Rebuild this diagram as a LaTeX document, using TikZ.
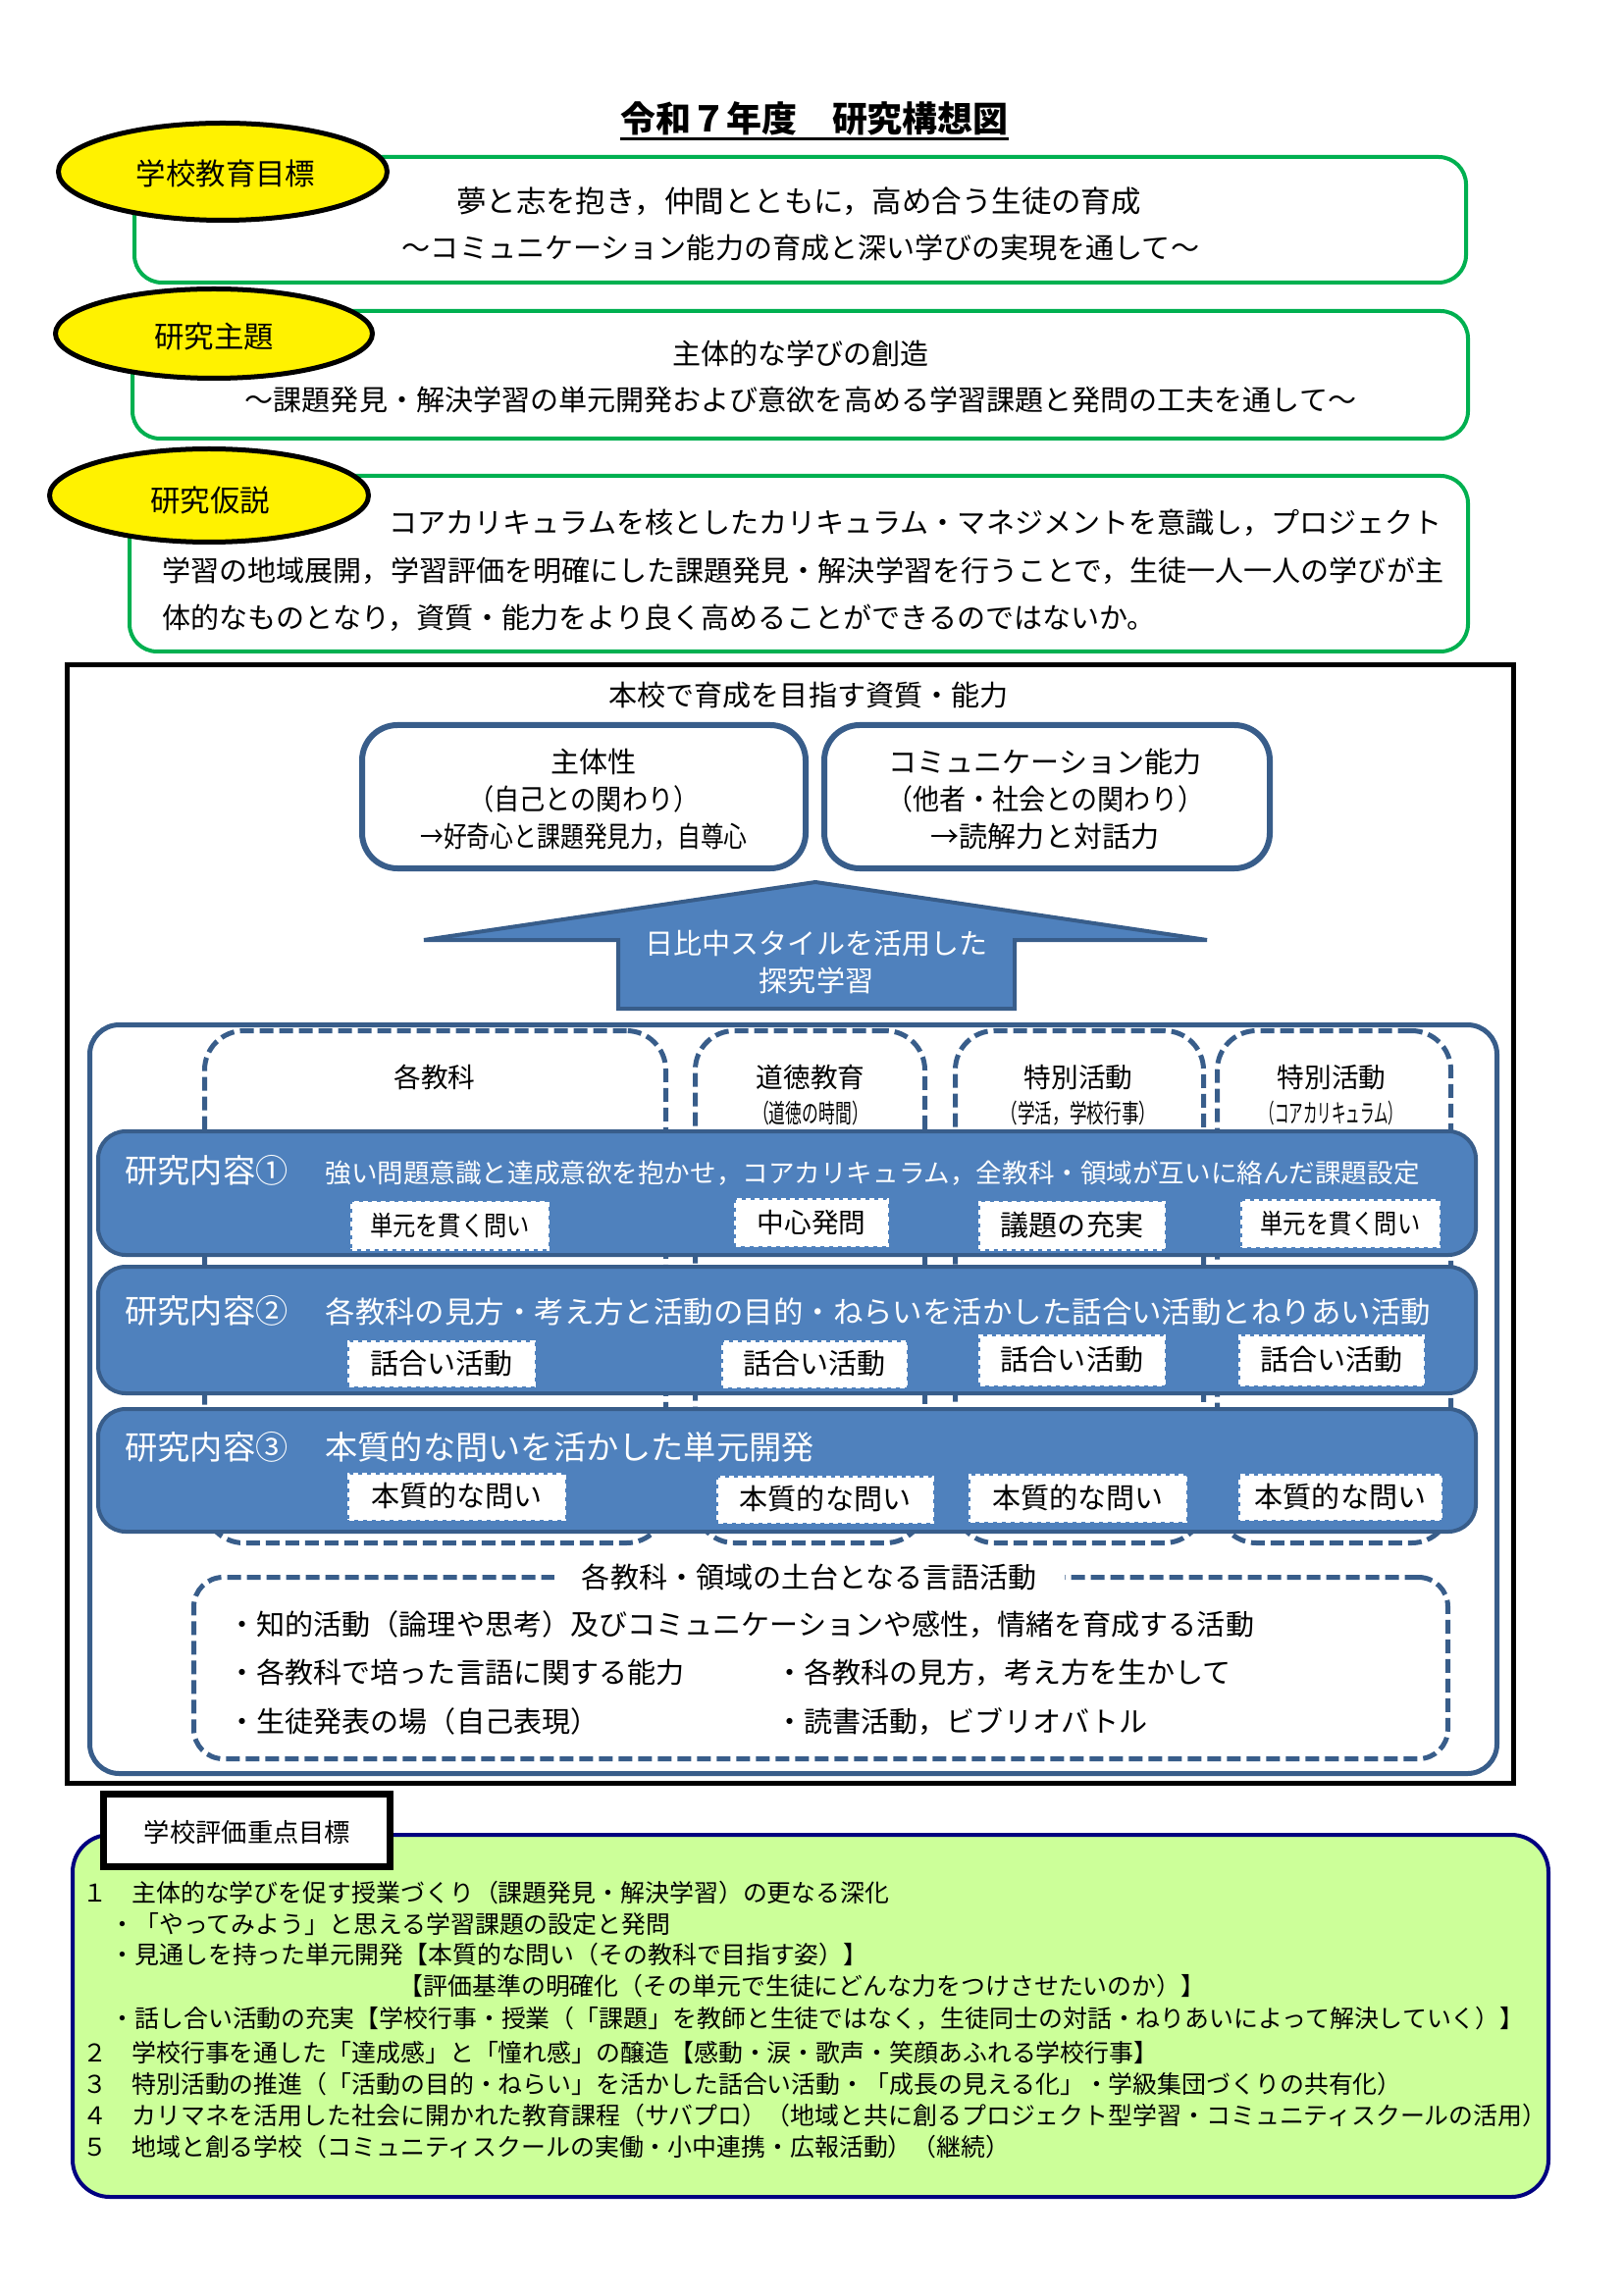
\documentclass[tikz,border=0pt]{standalone}
\usepackage{graphicx}
\usepackage{fontspec}
\setmainfont{Noto Sans CJK JP}
\usetikzlibrary{shapes.geometric}
\newdimen\PX \PX=0.127mm
\definecolor{gr}{HTML}{00B050}
\definecolor{bfill}{HTML}{4F81BD}
\definecolor{bdark}{HTML}{385D8A}
\definecolor{lgreen}{HTML}{CCFF99}
\definecolor{navyb}{HTML}{000080}
\newcommand{\fsz}[1]{\fontsize{#1}{#1}\selectfont}
\newcommand{\hsq}[2]{\scalebox{#1}[1]{#2}}
\begin{document}
\begin{tikzpicture}[x=0.127mm, y=-0.127mm,
  tx/.style={inner sep=0pt, text height=0.8em, text depth=0.05em},
  wtx/.style={tx, text=white},
  gbox/.style={draw=gr, line width=4\PX, rounded corners=28\PX, fill=white, inner sep=0pt},
  ell/.style={ellipse, draw=black, line width=5\PX, fill=yellow, inner sep=0pt},
  bbox/.style={draw=bdark, line width=6\PX, rounded corners=36\PX, fill=white, inner sep=0pt},
  dcol/.style={draw=bdark, line width=5\PX, dash pattern=on 14\PX off 6\PX, rounded corners=40\PX, inner sep=0pt},
  band/.style={draw=bdark, fill=bfill, line width=4\PX, rounded corners=28\PX, inner sep=0pt},
  lab/.style={fill=white, draw=white, line width=3\PX, dash pattern=on 5\PX off 4\PX, inner sep=0pt, text height=0.8em, text depth=0.05em},
]
\useasboundingbox (0,0) rectangle (1654,2339);
\fill[white] (0,0) rectangle (1654,2339);

% title
\node[tx, font=\fsz{13}\bfseries] (title) at (830,124) {令和７年度　研究構想図};
\draw[line width=2.5\PX] ([yshift=-5\PX]title.south west) -- ([yshift=-5\PX]title.south east);

% green boxes
\node[gbox, minimum width=1357\PX, minimum height=128\PX] (g1) at (815.5,224) {};
\node[gbox, minimum width=1361\PX, minimum height=130\PX] (g2) at (815.5,382) {};
\node[gbox, minimum width=1364\PX, minimum height=179\PX] (g3) at (814,574.5) {};

% ellipses
\node[ell, minimum width=335\PX, minimum height=99\PX] (e1) at (227,175) {};
\node[ell, minimum width=323\PX, minimum height=91\PX] (e2) at (218,340) {};
\node[ell, minimum width=325\PX, minimum height=95\PX] (e3) at (213,505) {};
\node[tx, font=\fsz{11}] (e1t) at (230,178) {学校教育目標};
\node[tx, font=\fsz{11}] (e2t) at (218,344) {研究主題};
\node[tx, font=\fsz{11}] (e3t) at (214,511) {研究仮説};

% green box texts
\node[tx, font=\fsz{11}] (g1a) at (814,206) {夢と志を抱き，仲間とともに，高め合う生徒の育成};
\node[tx, font=\fsz{10.5}] (g1b) at (816,253) {～コミュニケーション能力の育成と深い学びの実現を通して～};
\node[tx, font=\fsz{10.5}] (g2a) at (816,361) {主体的な学びの創造};
\node[tx, font=\fsz{10.5}] (g2b) at (816,408) {～課題発見・解決学習の単元開発および意欲を高める学習課題と発問の工夫を通して～};
\node[tx, font=\fsz{10.5}, anchor=west] (g3a) at (396,533) {コアカリキュラムを核としたカリキュラム・マネジメントを意識し，プロジェクト};
\node[tx, font=\fsz{10.5}, anchor=west] (g3b) at (165,582) {学習の地域展開，学習評価を明確にした課題発見・解決学習を行うことで，生徒一人一人の学びが主};
\node[tx, font=\fsz{10.5}, anchor=west] (g3c) at (165,630) {体的なものとなり，資質・能力をより良く高めることができるのではないか。};

% main black frame
\node[draw=black, line width=5\PX, minimum width=1474\PX, minimum height=1140\PX, inner sep=0pt] (main) at (805.5,1247.5) {};
\node[tx, font=\fsz{10.5}] (cap) at (824,709) {本校で育成を目指す資質・能力};

% two ability boxes
\node[bbox, minimum width=452\PX, minimum height=146\PX] (boxA) at (595,812) {};
\node[bbox, minimum width=454\PX, minimum height=146\PX] (boxB) at (1067,812) {};
\node[tx, font=\fsz{10.5}] (a1) at (605,777) {主体性};
\node[tx, font=\fsz{10.5}] (a2) at (595,815) {\hsq{0.9}{（自己との関わり）}};
\node[tx, font=\fsz{10.5}] (a3) at (595,853) {\hsq{0.82}{→好奇心と課題発見力，自尊心}};
\node[tx, font=\fsz{10.5}] (b1t) at (1065,777) {コミュニケーション能力};
\node[tx, font=\fsz{10.5}] (b2t) at (1065,815) {\hsq{0.93}{（他者・社会との関わり）}};
\node[tx, font=\fsz{10.5}] (b3t) at (1065,853) {→読解力と対話力};

% big up arrow
\filldraw[fill=bfill, draw=bdark, line width=4\PX, line join=miter]
  (831,899) -- (1230,958) -- (1034,958) -- (1034,1028) -- (630,1028) -- (630,958) -- (432,958) -- cycle;
\node[wtx, font=\fsz{10.5}] (ar1) at (832,962) {日比中スタイルを活用した};
\node[wtx, font=\fsz{10.5}] (ar2) at (832,1000) {探究学習};

% blue panel
\node[draw=bdark, line width=5\PX, rounded corners=30\PX, fill=white, minimum width=1434\PX, minimum height=763\PX, inner sep=0pt] (panel) at (808.5,1426) {};

% dashed columns
\node[dcol, minimum width=470\PX, minimum height=522\PX] (c1) at (443.5,1311.5) {};
\node[dcol, minimum width=234\PX, minimum height=522\PX] (c2) at (825.5,1311.5) {};
\node[dcol, minimum width=253\PX, minimum height=522\PX] (c3) at (1100,1311.5) {};
\node[dcol, minimum width=238\PX, minimum height=522\PX] (c4) at (1359.5,1311.5) {};
\node[tx, font=\fsz{10}] (c1t) at (443,1098) {各教科};
\node[tx, font=\fsz{10}] (c2t) at (826,1098) {道徳教育};
\node[tx, font=\fsz{9.5}] (c2s) at (826,1134) {\hsq{0.64}{（道徳の時間）}};
\node[tx, font=\fsz{9.5}] (c3t0) at (1099,1134) {\hsq{0.67}{（学活，学校行事）}};
\node[tx, font=\fsz{10}] (c3t) at (1099,1098) {特別活動};
\node[tx, font=\fsz{10}] (c4t) at (1357,1098) {特別活動};
\node[tx, font=\fsz{9.5}] (c4s) at (1357,1134) {\hsq{0.55}{（コアカリキュラム）}};

% bands
\node[band, minimum width=1404\PX, minimum height=126\PX] (bd1) at (802,1216) {};
\node[band, minimum width=1404\PX, minimum height=129\PX] (bd2) at (802,1355.5) {};
\node[band, minimum width=1404\PX, minimum height=125\PX] (bd3) at (802,1498.5) {};
\node[wtx, font=\fsz{12}, anchor=west] (bd1l) at (127,1195) {研究内容①};
\node[wtx, font=\fsz{9.6}, anchor=west] (bd1m) at (331,1195) {強い問題意識と達成意欲を抱かせ，コアカリキュラム，全教科・領域が互いに絡んだ課題設定};
\node[wtx, font=\fsz{12}, anchor=west] (bd2l) at (127,1338) {研究内容②};
\node[wtx, font=\fsz{11}, anchor=west] (bd2m) at (331,1338) {各教科の見方・考え方と活動の目的・ねらいを活かした話合い活動とねりあい活動};
\node[wtx, font=\fsz{12}, anchor=west] (bd3l) at (127,1477) {研究内容③};
\node[wtx, font=\fsz{12}, anchor=west] (bd3m) at (331,1477) {本質的な問いを活かした単元開発};

% label boxes
\node[lab, minimum width=200\PX, minimum height=48\PX, font=\fsz{10}] (l11) at (458.5,1249) {\hsq{0.84}{単元を貫く問い}};
\node[lab, minimum width=155\PX, minimum height=47\PX, font=\fsz{10}] (l12) at (827,1246) {中心発問};
\node[lab, minimum width=188\PX, minimum height=48\PX, font=\fsz{10.5}] (l13) at (1092.5,1249) {議題の充実};
\node[lab, minimum width=201\PX, minimum height=47\PX, font=\fsz{10}] (l14) at (1366,1247) {\hsq{0.84}{単元を貫く問い}};
\node[lab, minimum width=189\PX, minimum height=45\PX, font=\fsz{10.5}] (l21) at (450,1390) {話合い活動};
\node[lab, minimum width=187\PX, minimum height=46\PX, font=\fsz{10.5}] (l22) at (830,1390.5) {話合い活動};
\node[lab, minimum width=188\PX, minimum height=50\PX, font=\fsz{10.5}] (l23) at (1092.5,1386.5) {話合い活動};
\node[lab, minimum width=187\PX, minimum height=50\PX, font=\fsz{10.5}] (l24) at (1357,1386.5) {話合い活動};
\node[lab, minimum width=220\PX, minimum height=46\PX, font=\fsz{10.5}] (l31) at (465.5,1525.5) {本質的な問い};
\node[lab, minimum width=219\PX, minimum height=46\PX, font=\fsz{10.5}] (l32) at (841,1528.5) {本質的な問い};
\node[lab, minimum width=220\PX, minimum height=47\PX, font=\fsz{10.5}] (l33) at (1098.5,1527) {本質的な問い};
\node[lab, minimum width=205\PX, minimum height=45\PX, font=\fsz{10.5}] (l34) at (1366,1526) {本質的な問い};

% foundation dashed box
\node[dcol, rounded corners=30\PX, minimum width=1278\PX, minimum height=185\PX] (found) at (836.5,1700) {};
\node[tx, fill=white, inner xsep=28\PX, font=\fsz{10.5}] (foundt) at (825,1608) {各教科・領域の土台となる言語活動};
\node[tx, font=\fsz{10.5}, anchor=west] (f1) at (232,1656) {・知的活動（論理や思考）及びコミュニケーションや感性，情緒を育成する活動};
\node[tx, font=\fsz{10.5}, anchor=west] (f2) at (232,1705) {・各教科で培った言語に関する能力};
\node[tx, font=\fsz{10.5}, anchor=west] (f3) at (790,1705) {・各教科の見方，考え方を生かして};
\node[tx, font=\fsz{10.5}, anchor=west] (f4) at (232,1755) {・生徒発表の場（自己表現）};
\node[tx, font=\fsz{10.5}, anchor=west] (f5) at (790,1755) {・読書活動，ビブリオバトル};

% evaluation panel
\node[draw=navyb, fill=lgreen, line width=4\PX, rounded corners=38\PX, minimum width=1504\PX, minimum height=369\PX, inner sep=0pt] (evp) at (826,2054.5) {};
\node[draw=black, fill=white, line width=5\PX, minimum width=294\PX, minimum height=76\PX, inner sep=0pt] (ev) at (251.5,1865.5) {};
\draw[line width=1.5\PX] ([shift={(6\PX,-6\PX)}]ev.north west) rectangle ([shift={(-6\PX,6\PX)}]ev.south east);
\node[tx, font=\fsz{9.5}] (evt) at (252,1867) {学校評価重点目標};

\node[tx, font=\fsz{9}, anchor=west] (p1) at (84,1928) {１　主体的な学びを促す授業づくり（課題発見・解決学習）の更なる深化};
\node[tx, font=\fsz{9}, anchor=west] (p2) at (112,1960) {・「やってみよう」と思える学習課題の設定と発問};
\node[tx, font=\fsz{9}, anchor=west] (p3) at (112,1991) {・見通しを持った単元開発【本質的な問い（その教科で目指す姿）】};
\node[tx, font=\fsz{9}, anchor=west] (p4) at (406,2023) {【評価基準の明確化（その単元で生徒にどんな力をつけさせたいのか）】};
\node[tx, font=\fsz{9}, anchor=west] (p5) at (112,2056) {・話し合い活動の充実【学校行事・授業（「課題」を教師と生徒ではなく，生徒同士の対話・ねりあいによって解決していく）】};
\node[tx, font=\fsz{9}, anchor=west] (p6) at (84,2091) {２　学校行事を通した「達成感」と「憧れ感」の醸造【感動・涙・歌声・笑顔あふれる学校行事】};
\node[tx, font=\fsz{9}, anchor=west] (p7) at (84,2123) {３　特別活動の推進（「活動の目的・ねらい」を活かした話合い活動・「成長の見える化」・学級集団づくりの共有化）};
\node[tx, font=\fsz{9}, anchor=west] (p8) at (84,2155) {４　カリマネを活用した社会に開かれた教育課程（サバプロ）（地域と共に創るプロジェクト型学習・コミュニティスクールの活用）};
\node[tx, font=\fsz{9}, anchor=west] (p9) at (84,2187) {５　地域と創る学校（コミュニティスクールの実働・小中連携・広報活動）（継続）};
\end{tikzpicture}
\end{document}
